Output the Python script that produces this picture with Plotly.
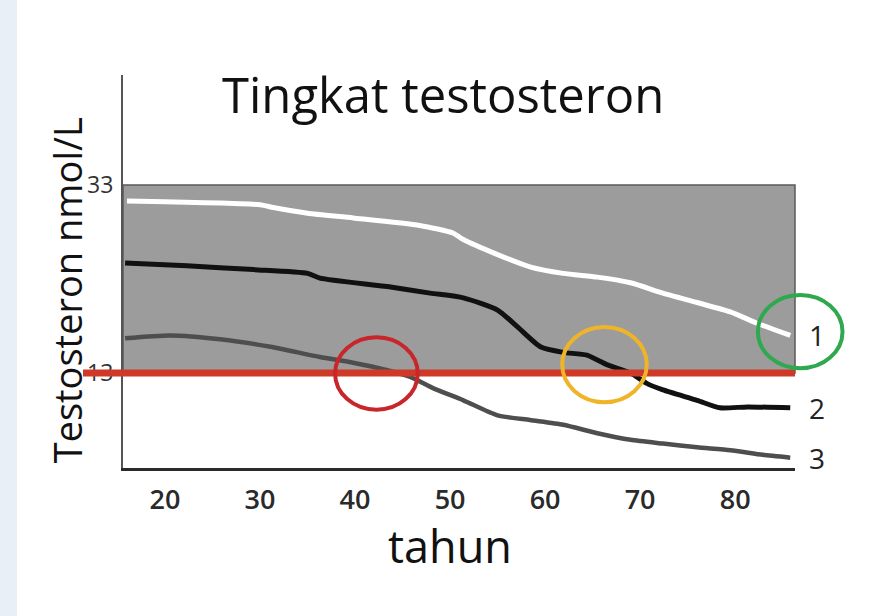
import plotly.graph_objects as go

# ---- data ----
age_1 = [16.0, 30.0, 31.4, 35.0, 39.8, 46.8, 50.3, 51.4, 55.0, 58.4, 61.9, 65.5, 69.0, 72.4, 76.0, 79.5, 82.3, 85.8]
level_1 = [31.3, 30.9, 30.6, 30.0, 29.5, 28.7, 27.9, 27.2, 25.6, 24.3, 23.6, 23.2, 22.6, 21.5, 20.5, 19.5, 18.3, 17.0]

age_2 = [15.8, 22.3, 29.3, 35.0, 36.3, 43.4, 47.9, 51.4, 55.0, 57.1, 59.5, 61.9, 64.4, 66.5, 69.0, 70.7, 72.4, 76.0, 78.4, 81.3, 85.8]
level_2 = [24.7, 24.4, 24.0, 23.6, 23.1, 22.2, 21.5, 21.0, 19.7, 17.9, 15.8, 15.2, 14.9, 13.9, 13.0, 11.9, 11.2, 10.1, 9.3, 9.4, 9.3]

age_3 = [15.8, 20.5, 25.8, 31.1, 36.3, 39.8, 43.4, 45.8, 48.2, 51.4, 55.0, 58.4, 61.9, 65.5, 69.0, 72.4, 76.0, 79.5, 82.9, 85.8]
level_3 = [16.7, 17.0, 16.6, 15.8, 14.7, 14.1, 13.3, 12.6, 11.4, 10.1, 8.5, 8.0, 7.5, 6.6, 5.9, 5.5, 5.1, 4.8, 4.3, 4.0]

series_labels = ["1", "2", "3"]
x_tick_vals = [20, 30, 40, 50, 60, 70, 80]
x_tick_text = ["20", "30", "40", "50", "60", "70", "80"]
y_tick_vals = [13, 33]
y_tick_text = ["13", "33"]
threshold = 13
normal_band = [13, 33]

# highlight circles: (x0, x1, y0, y1) in data units
circle_red = (37.9, 46.6, 9.1, 16.8)
circle_yellow = (61.8, 70.7, 9.9, 17.9)
circle_green = (82.4, 91.3, 13.5, 21.3)

X_RANGE = [15.58, 86.3]
Y_RANGE = [2.9, 44.7]
PLOT_W = 672
PLOT_H = 393


def px(xv):
    return (xv - X_RANGE[0]) / (X_RANGE[1] - X_RANGE[0])


def py(yv):
    return (yv - Y_RANGE[0]) / (Y_RANGE[1] - Y_RANGE[0])


FONT = "Open Sans"

fig = go.Figure()
fig.add_trace(go.Scatter(x=age_3, y=level_3, mode="lines",
                         line=dict(color="#4e4e4e", width=4.5, shape="spline", smoothing=0.6),
                         hoverinfo="skip", showlegend=False))
fig.add_trace(go.Scatter(x=age_2, y=level_2, mode="lines",
                         line=dict(color="#111111", width=5, shape="spline", smoothing=0.6),
                         hoverinfo="skip", showlegend=False))
fig.add_trace(go.Scatter(x=age_1, y=level_1, mode="lines",
                         line=dict(color="#ffffff", width=5, shape="spline", smoothing=0.6),
                         hoverinfo="skip", showlegend=False))

shapes = [
    # faint blue edge of the background
    dict(type="rect", xref="paper", yref="paper", x0=-123 / PLOT_W, x1=-106 / PLOT_W, y0=-1, y1=2,
         fillcolor="#e8eff7", line=dict(width=0), layer="below"),
    # gray normal band
    dict(type="rect", xref="paper", yref="y", x0=0, x1=1, y0=normal_band[0], y1=normal_band[1],
         fillcolor="#9c9c9c", line=dict(color="#5a5a5a", width=1.5), layer="below"),
    # red threshold line
    dict(type="line", xref="paper", yref="y", x0=-40 / PLOT_W, x1=1, y0=threshold, y1=threshold,
         line=dict(color="#cf3a28", width=7), layer="above"),
]
for (c, col) in [(circle_red, "#c8262a"), (circle_yellow, "#f0b428"), (circle_green, "#2fa84f")]:
    shapes.append(dict(type="circle", xref="paper", yref="paper",
                       x0=px(c[0]), x1=px(c[1]), y0=py(c[2]), y1=py(c[3]),
                       line=dict(color=col, width=4), layer="above"))

annotations = [
    dict(text="Tingkat testosteron", xref="paper", yref="paper", x=px(49.3), y=py(42.7),
         xanchor="center", yanchor="middle", showarrow=False,
         font=dict(family=FONT, size=49, color="#111111")),
    dict(text="Testosteron nmol/L", xref="paper", yref="paper", x=(67 - 123) / PLOT_W, y=py(21.8),
         textangle=-90, xanchor="center", yanchor="middle", showarrow=False,
         font=dict(family=FONT, size=38, color="#111111")),
    dict(text="tahun", xref="paper", yref="paper", x=px(50.0), y=(468 - 545) / PLOT_H,
         xanchor="center", yanchor="middle", showarrow=False, height=44, valign="middle",
         font=dict(family=FONT, size=45, color="#111111")),
]
for lab, yv in zip(series_labels, [level_1[-1], level_2[-1], level_3[-1]]):
    annotations.append(dict(text=lab, xref="paper", yref="y", x=1 + 22 / PLOT_W, y=yv,
                            xanchor="center", yanchor="middle", showarrow=False,
                            font=dict(family=FONT, size=28, color="#222222")))

fig.update_layout(
    width=875, height=616,
    margin=dict(l=123, r=80, t=75, b=148),
    paper_bgcolor="#ffffff", plot_bgcolor="#ffffff",
    shapes=shapes, annotations=annotations,
    xaxis=dict(range=X_RANGE, tickvals=x_tick_vals, ticktext=x_tick_text,
               showgrid=False, zeroline=False, showline=True, linecolor="#2a2a2a", linewidth=3,
               ticks="", ticklabelstandoff=6,
               tickfont=dict(family=FONT, size=27, color="#2a2a2a", weight=600)),
    yaxis=dict(range=Y_RANGE, tickvals=y_tick_vals, ticktext=y_tick_text,
               showgrid=False, zeroline=False, showline=True, linecolor="#555555", linewidth=2,
               ticks="", ticklabelstandoff=3,
               tickfont=dict(family=FONT, size=23, color="#333333")),
)

fig.write_html("out.html", config={"displayModeBar": False},
               post_script="document.body.style.margin='0px';")
